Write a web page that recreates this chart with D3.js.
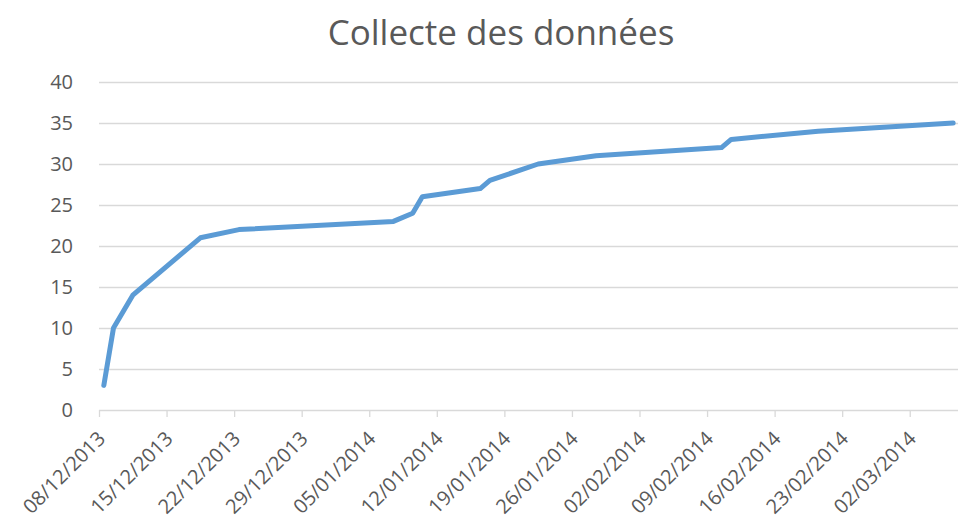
<!DOCTYPE html>
<html>
<head>
<meta charset="utf-8">
<script src="https://cdn.jsdelivr.net/npm/d3@7"></script>
<style>
  body { margin: 0; background: #fff; }
  text { font-family: "Open Sans", "Liberation Sans", sans-serif; fill: #595959; }
</style>
</head>
<body>
<svg width="958" height="519"></svg>
<script>
// data
const dates = ["08/12/2013", "09/12/2013", "11/12/2013", "18/12/2013", "22/12/2013",
               "07/01/2014", "09/01/2014", "10/01/2014", "16/01/2014", "17/01/2014",
               "22/01/2014", "28/01/2014", "10/02/2014", "11/02/2014", "20/02/2014",
               "06/03/2014"]
const values = [3, 10, 14, 21, 22, 23, 24, 26, 27, 28, 30, 31, 32, 33, 34, 35]
const yTicks = [0, 5, 10, 15, 20, 25, 30, 35, 40]
const xTickLabels = ["08/12/2013", "15/12/2013", "22/12/2013", "29/12/2013", "05/01/2014",
                     "12/01/2014", "19/01/2014", "26/01/2014", "02/02/2014", "09/02/2014",
                     "16/02/2014", "23/02/2014", "02/03/2014"]

const parse = d3.timeParse("%d/%m/%Y")

const svg = d3.select("svg")
const plotLeft = 99, plotRight = 958, plotTop = 82, plotBottom = 410

const x = d3.scaleTime()
    .domain([parse("08/12/2013"), parse("07/03/2014")])
    .range([plotLeft, plotRight])

const y = d3.scaleLinear()
    .domain([0, 40])
    .range([plotBottom, plotTop])

// title
svg.append("text")
    .attr("x", 501)
    .attr("y", 45)
    .attr("text-anchor", "middle")
    .style("font-size", "35px")
    .text("Collecte des données")

// grid
svg.append("g")
    .selectAll("line")
    .data(yTicks)
    .enter()
    .append("line")
    .attr("x1", plotLeft)
    .attr("x2", plotRight)
    .attr("y1", d => Math.round(y(d)) + 0.5)
    .attr("y2", d => Math.round(y(d)) + 0.5)
    .attr("stroke", "#d9d9d9")
    .attr("stroke-width", 1.3)

// y labels
svg.append("g")
    .selectAll("text")
    .data(yTicks)
    .enter()
    .append("text")
    .attr("x", 73)
    .attr("y", d => y(d))
    .attr("dy", "0.36em")
    .attr("text-anchor", "end")
    .style("font-size", "20px")
    .text(d => d)

// x axis
const xAxis = d3.axisBottom(x)
    .tickValues(xTickLabels.map(parse))
    .tickSize(7)
    .tickFormat(d3.timeFormat("%d/%m/%Y"))

const gx = svg.append("g")
    .attr("transform", `translate(0,${plotBottom})`)
    .call(xAxis)

gx.select(".domain").remove()
gx.selectAll(".tick line")
    .attr("stroke", "#d9d9d9")
    .attr("stroke-width", 1.3)
gx.selectAll(".tick text")
    .attr("fill", "#595959")
    .style("font-size", "20px")
    .attr("text-anchor", "end")
    .attr("x", 0)
    .attr("y", 0)
    .attr("dy", 0)
    .attr("transform", "translate(7,30) rotate(-45)")

// points sit in the middle of their day
const line = d3.line()
    .x(d => x(d3.timeHour.offset(d.date, 12)))
    .y(d => y(d.value))

const series = dates.map((d, i) => ({ date: parse(d), value: values[i] }))

svg.append("path")
    .datum(series)
    .attr("fill", "none")
    .attr("stroke", "#5b9bd5")
    .attr("stroke-width", 5)
    .attr("stroke-linejoin", "round")
    .attr("stroke-linecap", "round")
    .attr("d", line)
</script>
</body>
</html>
